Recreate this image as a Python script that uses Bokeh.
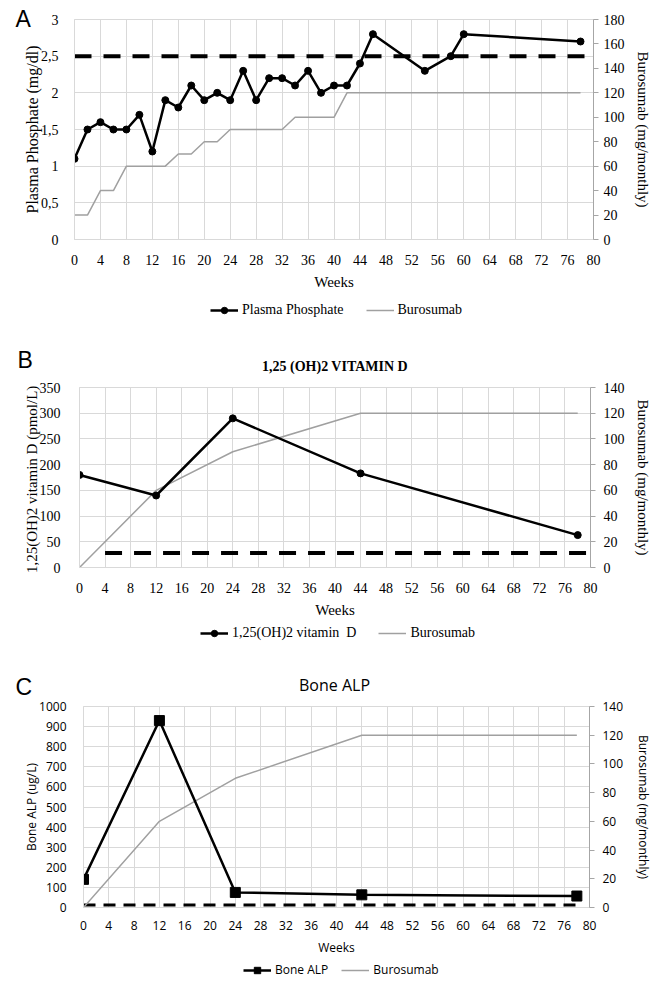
from bokeh.plotting import figure
from bokeh.models import Range1d, LinearAxis, Legend, LegendItem, Label, FixedTicker, Title
from bokeh.layouts import column
from bokeh.embed import file_html
from bokeh.resources import INLINE

# ---------------- data ----------------
week_ticks = list(range(0, 81, 4))

# Panel A
phos_weeks = [0, 2, 4, 6, 8, 10, 12, 14, 16, 18, 20, 22, 24, 26, 28, 30, 32, 34, 36, 38, 40, 42, 44, 46, 54, 58, 60, 78]
phos_vals = [1.1, 1.5, 1.6, 1.5, 1.5, 1.7, 1.2, 1.9, 1.8, 2.1, 1.9, 2.0, 1.9, 2.3, 1.9, 2.2, 2.2, 2.1, 2.3, 2.0, 2.1, 2.1, 2.4, 2.8, 2.3, 2.5, 2.8, 2.7]
burA_weeks = [0, 2, 4, 6, 8, 14, 16, 18, 20, 22, 24, 32, 34, 40, 42, 78]
burA_vals = [20, 20, 40, 40, 60, 60, 70, 70, 80, 80, 90, 90, 100, 100, 120, 120]
phos_ref_weeks = [0, 80]
phos_ref_vals = [2.5, 2.5]
phos_ticks = [0, 0.5, 1, 1.5, 2, 2.5, 3]
phos_tick_labels = ["0", "0,5", "1", "1,5", "2", "2,5", "3"]
burA_ticks = list(range(0, 181, 20))

# Panel B
vitd_weeks = [0, 12, 24, 44, 78]
vitd_vals = [180, 140, 290, 183, 63]
burB_weeks = [0, 12, 24, 44, 78]
burB_vals = [0, 60, 90, 120, 120]
vitd_ref_weeks = [4, 80]
vitd_ref_vals = [28, 28]
vitd_ticks = list(range(0, 351, 50))
burB_ticks = list(range(0, 141, 20))

# Panel C
alp_weeks = [0, 12, 24, 44, 78]
alp_vals = [140, 930, 75, 63, 57]
burC_weeks = [0, 12, 24, 44, 78]
burC_vals = [0, 60, 90, 120, 120]
alp_ref_weeks = [0, 78]
alp_ref_vals = [13, 13]
alp_ticks = list(range(0, 1001, 100))
burC_ticks = list(range(0, 141, 20))

GRID = "#d9d9d9"
AXIS = "#a6a6a6"
GRAY = "#a0a0a0"
SERIF = "Liberation Serif"
SANS = "Open Sans"
LETTER = "Liberation Sans"
W = 655


def no_align(p):
    if "frame_align" in p.properties():
        p.frame_align = False


def make_panel(h, bl, br, bt, bb, y_end, y_ticks, bur_end, bur_ticks, font,
               tick_size, xlabel_size, ylabel_size, rlabel_size, ylabel, rlabel,
               stand, y_overrides=None):
    p = figure(width=W, height=h, x_range=Range1d(0, 80), y_range=Range1d(0, y_end),
               output_backend="svg", toolbar_location=None,
               min_border_left=bl, min_border_right=br, min_border_top=bt, min_border_bottom=bb)
    no_align(p)
    p.extra_y_ranges = {"bur": Range1d(0, bur_end)}
    p.outline_line_color = GRID
    p.background_fill_color = "white"

    xa = p.xaxis[0]
    xa.ticker = FixedTicker(ticks=week_ticks)
    xa.axis_label = "Weeks"
    ya = p.yaxis[0]
    ya.ticker = FixedTicker(ticks=y_ticks)
    ya.axis_label = ylabel
    if y_overrides:
        ya.major_label_overrides = y_overrides
    ra = LinearAxis(y_range_name="bur", ticker=FixedTicker(ticks=bur_ticks), axis_label=rlabel)
    p.add_layout(ra, "right")

    for ax, ls in ((xa, xlabel_size), (ya, ylabel_size), (ra, rlabel_size)):
        ax.major_label_text_font = font
        ax.major_label_text_font_size = tick_size
        ax.major_label_text_color = "black"
        ax.axis_label_text_font = font
        ax.axis_label_text_font_size = ls
        ax.axis_label_text_font_style = "normal"
        ax.axis_label_text_color = "black"
        ax.minor_tick_line_color = None
    for ax in (xa, ya):
        ax.axis_line_color = GRID
        ax.major_tick_line_color = None
    ra.axis_line_color = AXIS
    ra.major_tick_line_color = AXIS
    ra.major_tick_in = 0
    ra.major_tick_out = 5
    (xa.major_label_standoff, xa.axis_label_standoff,
     ya.major_label_standoff, ya.axis_label_standoff,
     ra.major_label_standoff, ra.axis_label_standoff) = stand

    p.xgrid.ticker = FixedTicker(ticks=week_ticks)
    p.ygrid.ticker = FixedTicker(ticks=y_ticks)
    p.xgrid.grid_line_color = GRID
    p.ygrid.grid_line_color = GRID
    return p


def blank(h):
    # ranges lie outside all data, so the legend's sample renderers draw nothing in view
    f = figure(width=W, height=h, x_range=Range1d(-2, -1), y_range=Range1d(-2, -1),
               x_axis_type=None, y_axis_type=None, output_backend="svg",
               toolbar_location=None, min_border=0)
    no_align(f)
    f.outline_line_color = None
    f.grid.visible = False
    return f


def legend_in(f, specs, font, size, spacing, loc):
    items = []
    for label, xs, ys, marker, msize in specs:
        if marker:
            rs = [f.line(xs, ys, line_color="black", line_width=2.5),
                  f.scatter(xs, ys, marker=marker, size=msize, color="black")]
        else:
            rs = [f.line(xs, ys, line_color=GRAY, line_width=1.5)]
        items.append(LegendItem(label=label, renderers=rs))
    f.add_layout(Legend(items=items, location=loc, orientation="horizontal",
                        border_line_color=None, background_fill_alpha=0,
                        margin=0, padding=0, spacing=spacing,
                        label_text_font=font, label_text_font_size=size,
                        label_text_color="black",
                        glyph_width=28, glyph_height=16, label_height=16, label_standoff=4))


def label_in(f, text, x, y, font, size, style="normal", align="left"):
    f.add_layout(Label(x=x, y=y, x_units="screen", y_units="screen", text=text,
                       text_font=font, text_font_size=size, text_font_style=style,
                       text_color="black", text_baseline="middle", text_align=align))


# ---------------- Panel A ----------------
pa = make_panel(292, 74, 62, 19, 50, 3, phos_ticks, 180, burA_ticks, SERIF, "14px",
                "15px", "16px", "15px",
                "Plasma Phosphate (mg/dl)", "Burosumab (mg/monthly)",
                (9, 6, 10, -3, 5, 7), dict(zip(phos_ticks, phos_tick_labels)))
pa.add_layout(Title(text="A", align="left", offset=-59, standoff=-25,
                    text_font=LETTER, text_font_size="23px", text_font_style="normal",
                    text_color="black"), "above")
pa.line(phos_ref_weeks, phos_ref_vals, line_color="black", line_width=4, line_dash="17 12")
pa.line(burA_weeks, burA_vals, y_range_name="bur", line_color=GRAY, line_width=1.5)
pa.line(phos_weeks, phos_vals, line_color="black", line_width=2.5)
pa.scatter(phos_weeks, phos_vals, marker="circle", size=7, color="black")

# legend A + heading B
hb = blank(86)
legend_in(hb, [("Plasma Phosphate", phos_weeks, phos_vals, "circle", 6),
               ("Burosumab", burA_weeks, burA_vals, None, 0)], SERIF, "14px", 22, (210, 60))
label_in(hb, "B", 17, 19, LETTER, "23px")
label_in(hb, "1,25 (OH)2 VITAMIN D", 334.5, 12, SERIF, "14px", "bold", "center")

# ---------------- Panel B ----------------
pb = make_panel(242, 79, 65, 9, 53, 350, vitd_ticks, 140, burB_ticks, SERIF, "14px",
                "15px", "15px", "15px",
                "1,25(OH)2 vitamin  D (pmol/L)", "Burosumab (mg/monthly)",
                (9, 6, 13, -3, 8, 7))
pb.line(vitd_ref_weeks, vitd_ref_vals, line_color="black", line_width=4, line_dash="17 12")
pb.line(burB_weeks, burB_vals, y_range_name="bur", line_color=GRAY, line_width=1.5)
pb.line(vitd_weeks, vitd_vals, line_color="black", line_width=2.5)
pb.scatter(vitd_weeks, vitd_vals, marker="circle", size=7, color="black")

# legend B + heading C
hc = blank(79)
legend_in(hc, [("1,25(OH)2 vitamin  D", vitd_weeks, vitd_vals, "circle", 6),
               ("Burosumab", burB_weeks, burB_vals, None, 0)], SERIF, "14px", 22, (200, 58))
label_in(hc, "C", 15, 13, LETTER, "23px")
label_in(hc, "Bone ALP", 334, 15, SANS, "16px", "normal", "center")

# ---------------- Panel C ----------------
pc = make_panel(259, 83, 66, 7, 47, 1000, alp_ticks, 140, burC_ticks, SANS, "12px",
                "12px", "12px", "12px",
                "Bone ALP (ug/L)", "Burosumab (mg/monthly)",
                (7, 6, 11, -4, 8, 9))
pc.line(alp_ref_weeks, alp_ref_vals, line_color="black", line_width=3, line_dash="12 8")
pc.line(burC_weeks, burC_vals, y_range_name="bur", line_color=GRAY, line_width=1.5)
pc.line(alp_weeks, alp_vals, line_color="black", line_width=2.5)
pc.scatter(alp_weeks, alp_vals, marker="square", size=10, color="black")

# legend C
lc = blank(24)
legend_in(lc, [("Bone ALP", alp_weeks, alp_vals, "square", 8),
               ("Burosumab", burC_weeks, burC_vals, None, 0)], SANS, "12px", 13, (243, 4))

layout = column(pa, hb, pb, hc, pc, lc, spacing=0)
open("out.html", "w").write(file_html(layout, INLINE))
